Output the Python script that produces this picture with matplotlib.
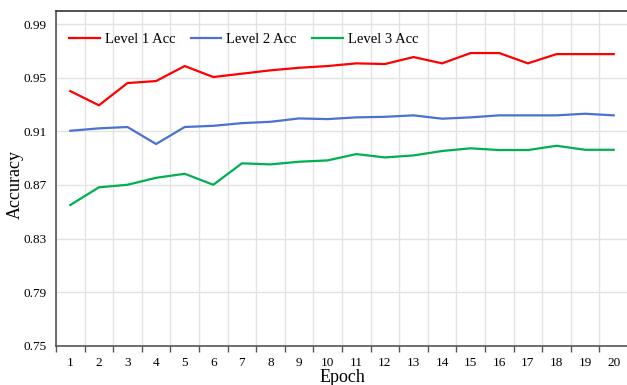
import numpy as np
import matplotlib.pyplot as plt

plt.rcParams['font.family'] = ['Liberation Serif', 'DejaVu Serif']

# Accuracy per epoch for each hierarchy level
epochs = np.arange(1, 21)
level1_acc = [0.940, 0.9294, 0.946, 0.9475, 0.9587, 0.9505, 0.953, 0.9555, 0.9574, 0.9587,
              0.9607, 0.9602, 0.9654, 0.9607, 0.9684, 0.9684, 0.9607, 0.9676, 0.9676, 0.9676]
level2_acc = [0.9104, 0.9122, 0.9132, 0.9005, 0.9132, 0.9141, 0.9161, 0.9171, 0.9196, 0.9191,
              0.9204, 0.9208, 0.9219, 0.9194, 0.9204, 0.9219, 0.9219, 0.9219, 0.9231, 0.9219]
level3_acc = [0.855, 0.8682, 0.8701, 0.8753, 0.8783, 0.8701, 0.8861, 0.8853, 0.8873, 0.8883,
              0.893, 0.8905, 0.892, 0.8953, 0.8973, 0.896, 0.896, 0.8992, 0.8962, 0.8962]
yticks = [0.75, 0.79, 0.83, 0.87, 0.91, 0.95, 0.99]

fig = plt.figure(figsize=(6.27, 3.85), dpi=100)
ax = fig.add_axes([56 / 627, 39.3 / 385, 572 / 627, 335 / 385])

ax.plot(epochs, level1_acc, color='#ff0000', lw=1.6, label='Level 1 Acc')
ax.plot(epochs, level2_acc, color='#4a72d0', lw=1.6, label='Level 2 Acc')
ax.plot(epochs, level3_acc, color='#00b050', lw=1.6, label='Level 3 Acc')

# category axis: ticks and vertical grid at the boundaries between epochs
ax.set_xlim(0.5, 20.5)
ax.set_xticks(epochs)
ax.set_xticklabels([str(e) for e in epochs])
ax.set_xticks(np.arange(0.5, 21, 1), minor=True)
ax.tick_params(axis='x', which='major', length=0, pad=8, labelsize=9.5)
ax.tick_params(axis='x', which='minor', length=4, width=1, color='#555555', direction='out')
ax.grid(axis='x', which='minor', color='#e3e3e3', lw=1)

ax.set_ylim(0.75, 1.0)
ax.set_yticks(yticks)
ax.set_yticklabels(['%.2f' % t for t in yticks])
ax.tick_params(axis='y', length=0, pad=6.5, labelsize=9.5)
ax.grid(axis='y', which='major', color='#e3e3e3', lw=1)
ax.set_axisbelow(True)

for side in ['left', 'bottom', 'top']:
    ax.spines[side].set_color('#555555')
    ax.spines[side].set_linewidth(1.2)
ax.spines['top'].set_color('#333333')
ax.spines['right'].set_visible(False)

ax.set_xlabel('Epoch', fontsize=13, labelpad=0)
ax.set_ylabel('Accuracy', fontsize=13)
ax.yaxis.set_label_coords(-32 / 572, 0.481)

ax.legend(loc='upper left', ncol=3, frameon=False, fontsize=10.5, handlelength=2.1,
          handletextpad=0.35, columnspacing=1.05, bbox_to_anchor=(0.0, 0.972))

fig.savefig('out.png', dpi=100)
